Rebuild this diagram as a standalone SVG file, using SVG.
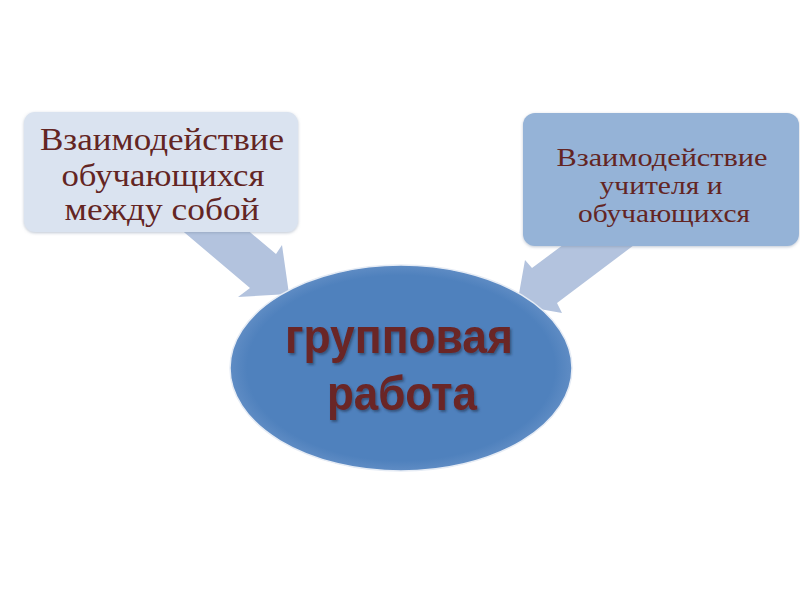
<svg xmlns="http://www.w3.org/2000/svg" width="800" height="600" viewBox="0 0 800 600">
  <defs>
    <filter id="shadow" x="-10%" y="-10%" width="120%" height="130%">
      <feDropShadow dx="1.5" dy="2" stdDeviation="1.2" flood-color="#1f2f4a" flood-opacity="0.55"/>
    </filter>
    <filter id="boxshadow" x="-5%" y="-5%" width="110%" height="115%">
      <feDropShadow dx="0" dy="1" stdDeviation="1.5" flood-color="#7f8fa6" flood-opacity="0.5"/>
    </filter>
    <radialGradient id="ellGrad" cx="50%" cy="50%" r="50%">
      <stop offset="0.9" stop-color="#4f81bd"/>
      <stop offset="1" stop-color="#5f8cc4"/>
    </radialGradient>
  </defs>
  <style>
    .arrow { fill: #b3c3de; }
    .box-text { font-family: "Liberation Serif", "Times New Roman", serif; fill: #632523; text-anchor: middle; }
    .main-text { font-family: "Liberation Sans", Arial, sans-serif; font-weight: bold; font-size: 48px; fill: #6b2525; text-anchor: middle; }
  </style>
  <rect width="800" height="600" fill="#ffffff"/>

  <g id="connectors">
    <polygon class="arrow" points="172,222 250,288 238,297 289,294 282,245 276,254 238,222"/>
    <polygon class="arrow" points="583,230 532,268 525,260 517,305 562,313 557,303 654,230"/>
  </g>

  <g id="node-left">
    <rect x="24" y="112" width="274" height="120" rx="11" fill="#dae3f0" filter="url(#boxshadow)"/>
    <text class="box-text" font-size="32" x="162" y="150" textLength="244" lengthAdjust="spacingAndGlyphs">Взаимодействие</text>
    <text class="box-text" font-size="32" x="163" y="186" textLength="203" lengthAdjust="spacingAndGlyphs">обучающихся</text>
    <text class="box-text" font-size="32" x="162" y="220" textLength="195" lengthAdjust="spacingAndGlyphs">между собой</text>
  </g>

  <g id="node-right">
    <rect x="523" y="113" width="276" height="133" rx="12" fill="#95b3d7" filter="url(#boxshadow)"/>
    <text class="box-text" font-size="25" x="662" y="166" textLength="211" lengthAdjust="spacingAndGlyphs">Взаимодействие</text>
    <text class="box-text" font-size="25" x="661" y="194" textLength="123" lengthAdjust="spacingAndGlyphs">учителя и</text>
    <text class="box-text" font-size="25" x="664" y="222" textLength="172" lengthAdjust="spacingAndGlyphs">обучающихся</text>
  </g>

  <g id="node-center">
    <ellipse cx="401" cy="368" rx="171" ry="103" fill="url(#ellGrad)" stroke="#e6ecf5" stroke-width="1.5"/>
    <text class="main-text" x="399" y="353" textLength="228" lengthAdjust="spacingAndGlyphs" filter="url(#shadow)">групповая</text>
    <text class="main-text" x="402" y="410" textLength="150" lengthAdjust="spacingAndGlyphs" filter="url(#shadow)">работа</text>
  </g>
</svg>
